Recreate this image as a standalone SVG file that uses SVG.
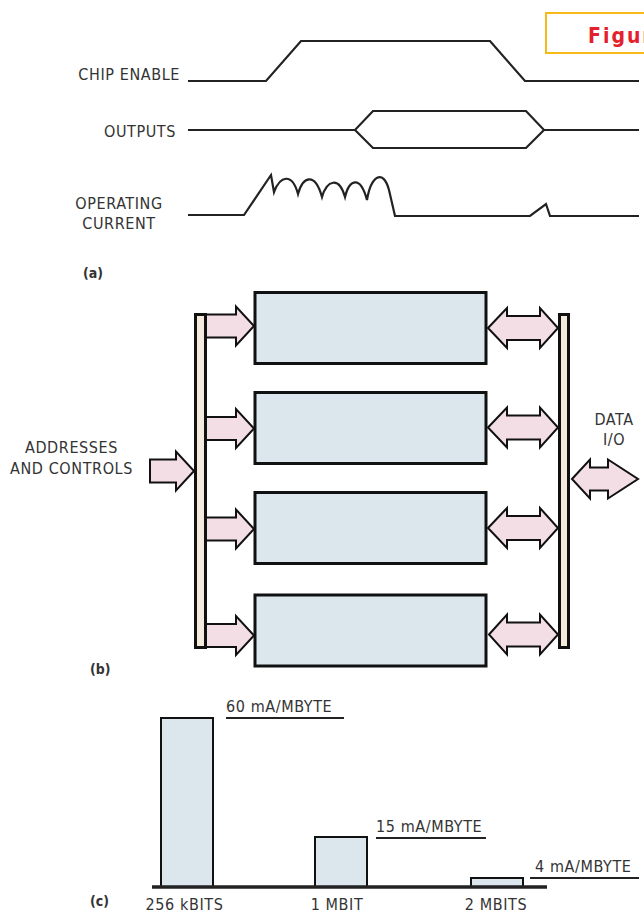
<svg xmlns="http://www.w3.org/2000/svg" width="644" height="915" viewBox="0 0 644 915">
<style>
.lbl{font-family:"DejaVu Sans Condensed","Liberation Sans",Arial,sans-serif;font-size:16px;letter-spacing:0.6px;fill:#333}
.tag{font-family:"DejaVu Sans Condensed","Liberation Sans",Arial,sans-serif;font-size:14px;font-weight:bold;fill:#333}
.wave{fill:none;stroke:#222;stroke-width:2.2;stroke-linejoin:miter}
.box{fill:#dce7ed;stroke:#111;stroke-width:3}
.bus{fill:#f4ebdc;stroke:#111;stroke-width:3}
.arr{fill:#f2dee4;stroke:#111;stroke-width:2;stroke-linejoin:miter}
.bar{fill:#dce7ed;stroke:#111;stroke-width:2}
.rule{stroke:#222;stroke-width:2}
</style>
<rect width="644" height="915" fill="#fff"/>

<g id="figure-tag">
<rect x="546" y="13" width="110" height="40" fill="#fff" stroke="#f7b918" stroke-width="2"/>
<text x="588" y="43" font-family="DejaVu Sans Condensed,Liberation Sans,sans-serif" font-weight="bold" font-size="21" letter-spacing="2" fill="#e3202c">Figure</text>
</g>

<g id="timing">
<g id="chip-enable">
<text class="lbl" x="180" y="80" text-anchor="end">CHIP ENABLE</text>
<path class="wave" d="M188,81 L266,81 L301,41 L490,41 L525,81 L639,81"/>
</g>
<g id="outputs">
<text class="lbl" x="176" y="137" text-anchor="end">OUTPUTS</text>
<path class="wave" d="M188,130 L355,130 L373,111 L526,111 L544,130 L639,130 M355,130 L373,148 L526,148 L544,130"/>
</g>
<g id="operating-current">
<text class="lbl" x="119" y="209" text-anchor="middle">OPERATING</text>
<text class="lbl" x="119" y="229" text-anchor="middle">CURRENT</text>
<path class="wave" d="M188,215 L244,215 L271,175 L274,192 C280,176 292,172 298,194 C303,176 315,172 322,197 C327,180 339,176 345,197 C349,180 360,174 367,200 C371,176 383,168 389,190 L395,216 L530,216 L546,204 L550,216 L639,216"/>
</g>
<text class="tag" x="83" y="278">(a)</text>
</g>

<g id="connectors">
<path class="arr" d="M206,314.5 L236,314.5 L236,306.5 L254,326 L236,345.5 L236,337.5 L206,337.5 Z"/>
<path class="arr" d="M206,417 L236,417 L236,409 L254,428.5 L236,448 L236,440 L206,440 Z"/>
<path class="arr" d="M206,517.5 L236,517.5 L236,509.5 L254,529 L236,548.5 L236,540.5 L206,540.5 Z"/>
<path class="arr" d="M206,624 L236,624 L236,616 L254,635.5 L236,655 L236,647 L206,647 Z"/>
<path class="arr" d="M150,459.5 L176,459.5 L176,451.5 L194,471 L176,490.5 L176,482.5 L150,482.5 Z"/>
<path class="arr" d="M488,328 L507,308 L507,316 L540,316 L540,308 L558,328 L540,348 L540,340 L507,340 L507,348 Z"/>
<path class="arr" d="M488,427.5 L507,407.5 L507,415.5 L540,415.5 L540,407.5 L558,427.5 L540,447.5 L540,439.5 L507,439.5 L507,447.5 Z"/>
<path class="arr" d="M488,528 L507,508 L507,516 L540,516 L540,508 L558,528 L540,548 L540,540 L507,540 L507,548 Z"/>
<path class="arr" d="M489,634.5 L507,614.5 L507,622.5 L540,622.5 L540,614.5 L558,634.5 L540,654.5 L540,646.5 L507,646.5 L507,654.5 Z"/>
<path class="arr" d="M572,479 L590,459.5 L590,467.5 L608,467.5 L608,459.5 L638,479 L608,498.5 L608,490.5 L590,490.5 L590,498.5 Z"/>
</g>

<g id="addr-bus"><rect class="bus" x="195.5" y="314.5" width="10" height="333"/></g>
<g id="data-bus"><rect class="bus" x="559.5" y="314.5" width="9" height="333"/></g>
<g id="block-1"><rect class="box" x="255" y="292.5" width="231" height="71"/></g>
<g id="block-2"><rect class="box" x="255" y="392.5" width="231" height="71"/></g>
<g id="block-3"><rect class="box" x="255" y="492.5" width="231" height="71"/></g>
<g id="block-4"><rect class="box" x="255" y="595" width="231" height="71"/></g>
<g id="addr-label">
<text class="lbl" x="71.5" y="453" text-anchor="middle">ADDRESSES</text>
<text class="lbl" x="71.5" y="474" text-anchor="middle">AND CONTROLS</text>
</g>
<g id="data-label">
<text class="lbl" x="614" y="425" text-anchor="middle">DATA</text>
<text class="lbl" x="614" y="445" text-anchor="middle">I/O</text>
</g>
<text class="tag" x="90" y="674">(b)</text>

<g id="chart">
<rect class="bar" x="161" y="718" width="52" height="169"/>
<rect class="bar" x="315" y="837" width="52" height="50"/>
<rect class="bar" x="471" y="878" width="52" height="9"/>
<line x1="152" y1="887" x2="547" y2="887" stroke="#222" stroke-width="3.5"/>
<line class="rule" x1="226" y1="718" x2="344" y2="718"/>
<line class="rule" x1="376" y1="838" x2="486" y2="838"/>
<line class="rule" x1="530" y1="878" x2="639" y2="878"/>
<text class="lbl" x="226" y="712">60 mA/MBYTE</text>
<text class="lbl" x="376" y="832">15 mA/MBYTE</text>
<text class="lbl" x="535" y="872">4 mA/MBYTE</text>
<text class="lbl" x="184.5" y="910" text-anchor="middle">256 kBITS</text>
<text class="lbl" x="337" y="910" text-anchor="middle">1 MBIT</text>
<text class="lbl" x="496" y="910" text-anchor="middle">2 MBITS</text>
<text class="tag" x="90" y="906">(c)</text>
</g>
</svg>
